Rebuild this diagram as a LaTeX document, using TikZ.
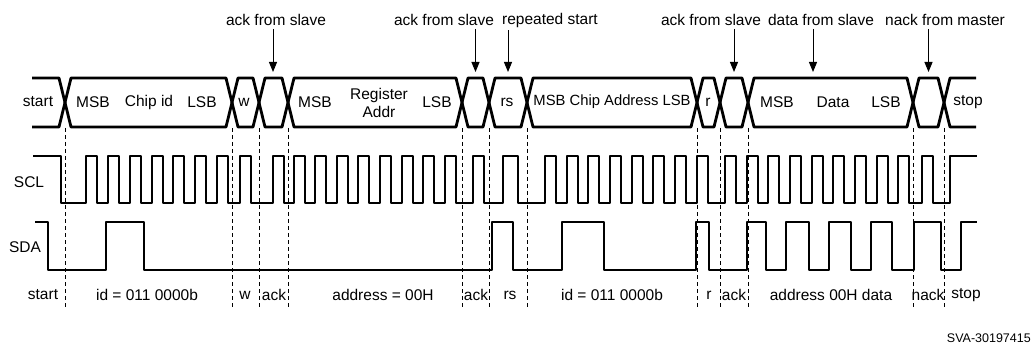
\documentclass[tikz,border=0pt]{standalone}
\usepackage{fontspec}
\setmainfont{Liberation Sans}
\usetikzlibrary{arrows.meta}
\tikzset{
  bus/.style={line width=2.8pt, line join=round},
  wave/.style={line width=2.8pt, line join=round},
  guide/.style={line width=0.8pt, dash pattern=on 4pt off 3pt},
  lbl/.style={inner sep=1pt, font=\fontsize{15.5}{17.5}\selectfont},
  pointer/.style={line width=1pt, -{Triangle[length=10pt,width=8pt]}},
}
\begin{document}
\begin{tikzpicture}[x=1pt,y=-1pt]
\useasboundingbox (0,0) rectangle (1034,350);
% guide lines at the bit borders
\foreach \x in {65,232,259,288,462,489,527,697,720,748,913,944}
  \draw[guide] (\x,128) -- (\x,309);
% bus with crossings
\draw[bus] (32,78) -- (59,78) -- (65,102.5) -- (59,127) -- (32,127);
\foreach \a/\b in {65/232,232/259,259/288,288/462,462/489,489/527,527/697,697/720,720/748,748/913,913/944}
  \draw[bus] (\a,102.5) -- (\a+6,78) -- (\b-6,78) -- (\b,102.5) -- (\b-6,127) -- (\a+6,127) -- cycle;
\draw[bus] (976,78) -- (950,78) -- (944,102.5) -- (950,127) -- (976,127);
% SCL
\draw[wave] (33,156) -- (61,156) -- (61,203)
  \foreach \r/\f in {86/97,108/119,130/141,152/163,173/184,195/206,217/228,240/251,273/284,
    294/305,315/326,337/348,358/369,380/391,402/413,423/434,445/456,473/484,503/518,
    545/556,567/578,588/599,610/621,632/643,653/664,675/686,697/708,725/736,
    747/758,768/779,790/801,812/823,833/844,855/866,877/888,898/909,922/933}
  { -- (\r,203) -- (\r,156) -- (\f,156) -- (\f,203) }
  -- (950,203) -- (950,156) -- (977,156);
% SDA
\draw[wave] (35,222) -- (48,222) -- (48,270)
  \foreach \r/\f in {106/144,492/513,562/604,696/709,747/766,786/809,829/851,871/892,914/941}
  { -- (\r,270) -- (\r,222) -- (\f,222) -- (\f,270) }
  -- (961,270) -- (961,222) -- (977,222);
% signal names
\node[lbl] (scl) at (29,182) {SCL};
\node[lbl] (sda) at (25,247) {SDA};
% bus texts
\node[lbl] (bStart) at (38,102) {start};
\node[lbl] (bMsbA) at (93,102) {MSB};
\node[lbl] (bChip) at (149,102) {Chip id};
\node[lbl] (bLsbA) at (202,102) {LSB};
\node[lbl] (bW) at (244,102) {w};
\node[lbl] (bMsbB) at (315,102) {MSB};
\node[lbl, align=center] (bReg) at (379,103) {Register\\Addr};
\node[lbl] (bLsbB) at (437,102) {LSB};
\node[lbl] (bRs) at (507,102) {rs};
\node[lbl, font=\fontsize{14.8}{17}\selectfont] (bAddr) at (612,102) {MSB Chip Address LSB};
\node[lbl] (bR) at (708,102) {r};
\node[lbl] (bMsbC) at (777,102) {MSB};
\node[lbl] (bData) at (833,102) {Data};
\node[lbl] (bLsbC) at (886,102) {LSB};
\node[lbl] (bStop) at (968,102) {stop};
% texts below
\node[lbl] (tStart) at (43,295) {start};
\node[lbl] (tId) at (147,295) {id = 011 0000b};
\node[lbl] (tW) at (245,295) {w};
\node[lbl] (tAckA) at (274,295) {ack};
\node[lbl] (tAddr) at (383,295) {address = 00H};
\node[lbl] (tAckB) at (476,295) {ack};
\node[lbl] (tRs) at (510,295) {rs};
\node[lbl] (tIdB) at (612,295) {id = 011 0000b};
\node[lbl] (tR) at (709,295) {r};
\node[lbl] (tAckC) at (734,295) {ack};
\node[lbl] (tData) at (831,295) {address 00H data};
\node[lbl] (tNack) at (928,295) {nack};
\node[lbl] (tStop) at (966,295) {stop};
% pointers from above
\node[lbl] (ackA) at (276,20) {ack from slave};
\node[lbl] (ackB) at (444,20) {ack from slave};
\node[lbl] (rsTop) at (550,20) {repeated start};
\node[lbl] (ackC) at (711,20) {ack from slave};
\node[lbl] (dataTop) at (821,20) {data from slave};
\node[lbl] (nackTop) at (945,20) {nack from master};
\coordinate (pA) at (273,72);
\coordinate (pB) at (475.5,72);
\coordinate (pRs) at (508,72);
\coordinate (pC) at (734,72);
\coordinate (pD) at (813,72);
\coordinate (pN) at (928.5,72);
\draw[pointer] (pA |- ackA.south) ++(0,2) -- (pA);
\draw[pointer] (pB |- ackB.south) ++(0,2) -- (pB);
\draw[pointer] (pRs |- rsTop.south) ++(0,2) -- (pRs);
\draw[pointer] (pC |- ackC.south) ++(0,2) -- (pC);
\draw[pointer] (pD |- dataTop.south) ++(0,2) -- (pD);
\draw[pointer] (pN |- nackTop.south) ++(0,2) -- (pN);
\node[font=\fontsize{12.5}{14}\selectfont, inner sep=0pt, anchor=east] (svaTag) at (1031,338) {SVA-30197415};
\end{tikzpicture}
\end{document}
